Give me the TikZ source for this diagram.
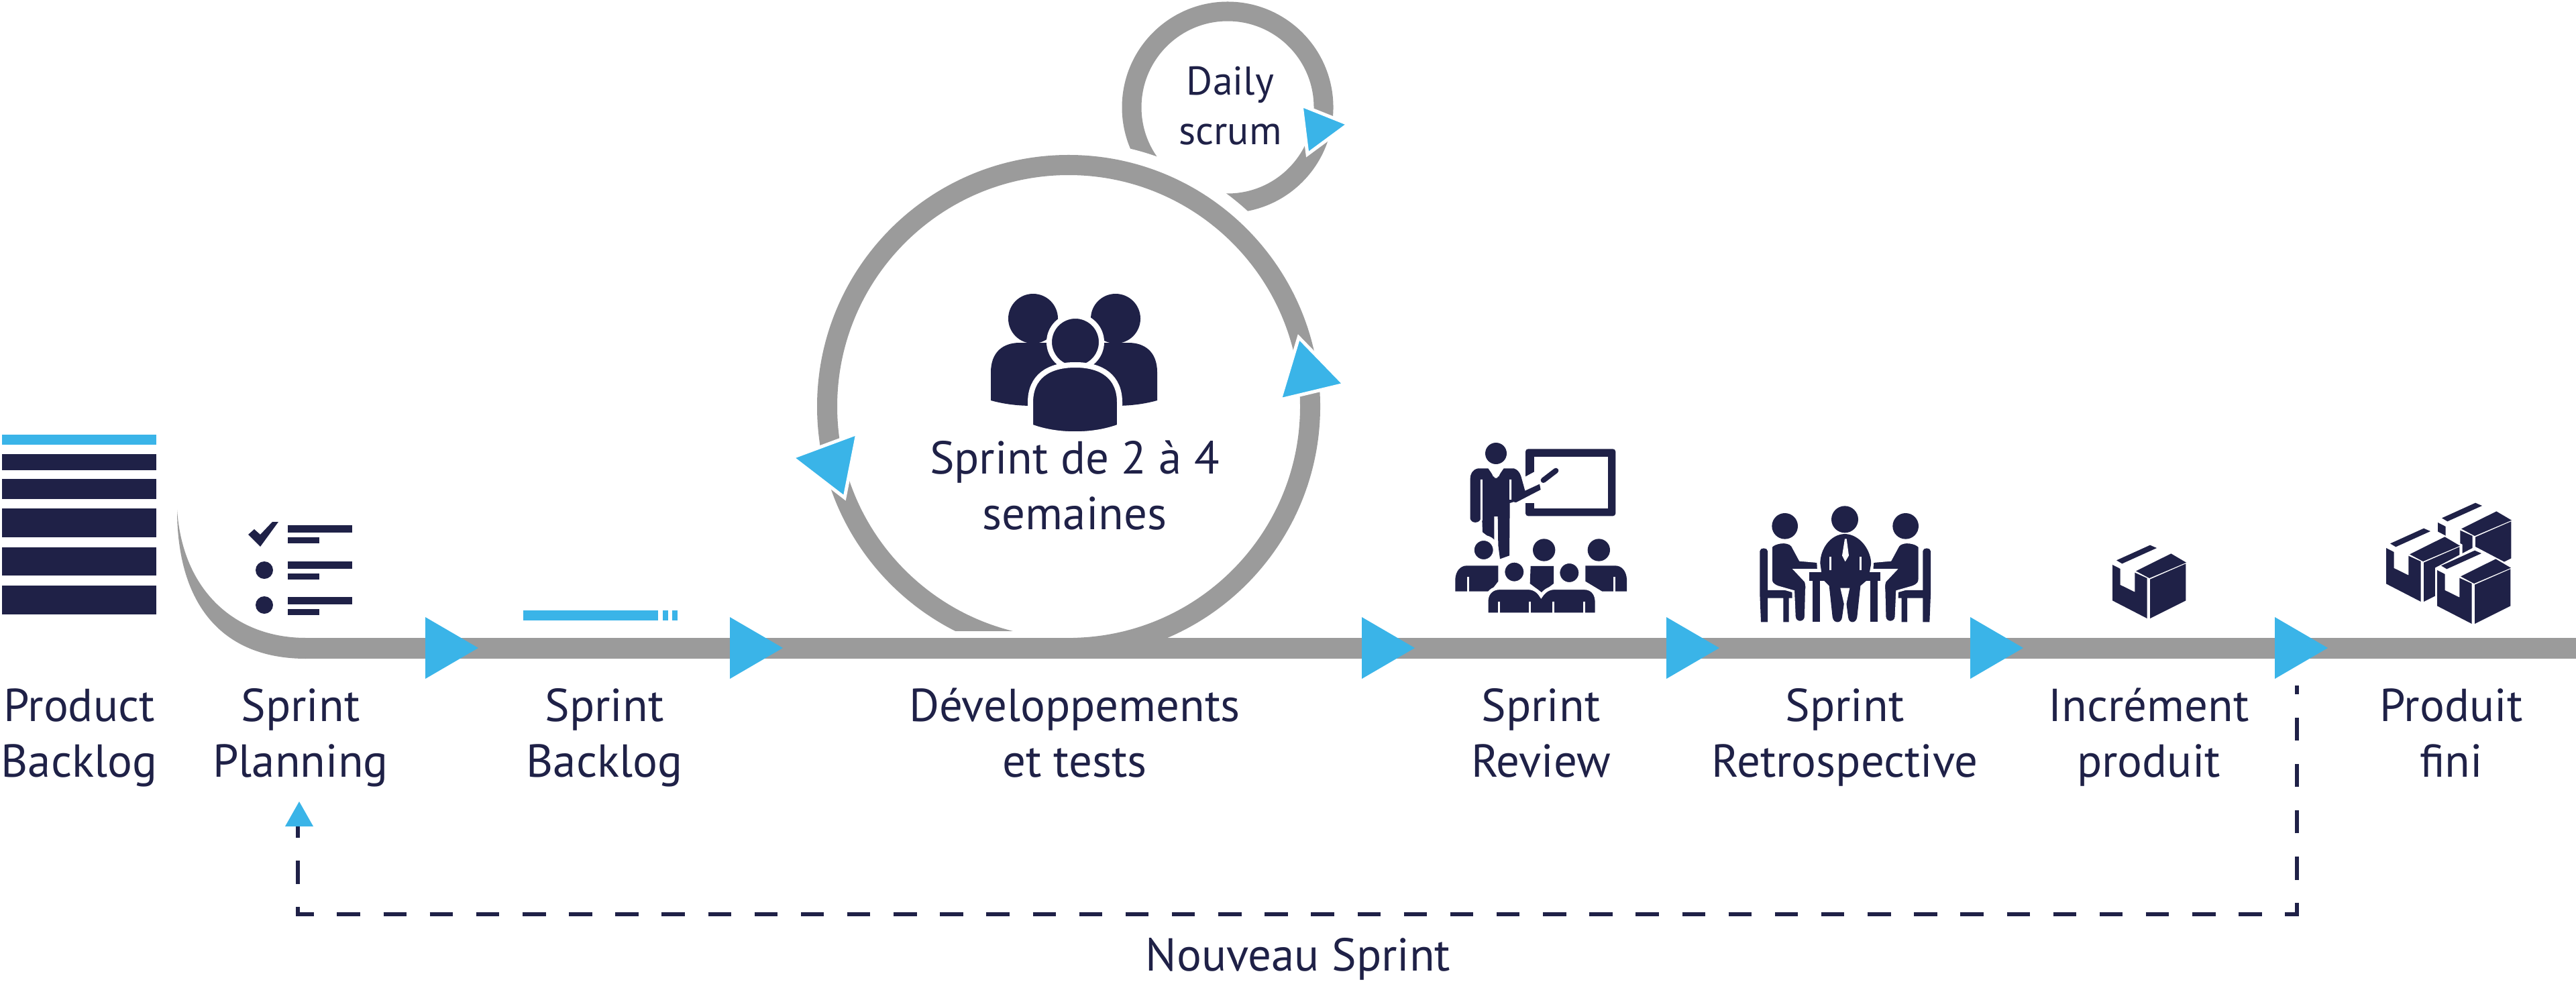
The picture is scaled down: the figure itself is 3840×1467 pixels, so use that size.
\documentclass[tikz,border=0pt]{standalone}
\usepackage{fontspec}
\setmainfont{PT Sans}
\definecolor{railgray}{HTML}{9B9B9B}
\definecolor{flowblue}{HTML}{3AB4E8}
\definecolor{navy}{HTML}{1F2147}
\newcommand{\tl}[1]{\strut #1}
% one carton: #1,#2 are its lower left x and its bottom y, in the units of the enclosing scope
\newcommand{\cartonbox}[2]{%
  \begin{scope}[shift={(#1,#2)},scale=0.3333]
    \fill[white,draw=white,line width=0.6mm] (0,-245)--(170,-335)--(332,-250)--(332,-80)--(160,0)--(0,-80)--cycle;
    \fill[navy] (0,-240)--(35,-222)--(35,-150)--(100,-118)--(100,-205)--(155,-180)--(155,0)--(0,-80)--cycle;
    \fill[navy] (168,-175)--(328,-245)--(328,-80)--(168,0)--cycle;
    \fill[navy] (18,-260)--(168,-328)--(198,-315)--(43,-245)--cycle;
    \fill[navy] (105,-212)--(262,-290)--(330,-250)--(165,-180)--cycle;
  \end{scope}}
% seated person with a chair, facing right
\newcommand{\seatedperson}{%
  \fill[navy] (182,133) circle[radius=58];
  \fill[navy] (70,245) .. controls (70,228) and (105,228) .. (105,245) -- (105,420) -- (215,420) -- (215,455)
    -- (200,455) -- (200,562) -- (175,562) -- (175,455) -- (105,455) -- (105,562) -- (75,562) -- (70,440) -- cycle;
  \filldraw[fill=navy,draw=white,line width=0.35mm] (120,225) .. controls (135,205) and (195,195) .. (215,220)
    -- (250,285) -- (330,292) -- (332,330) -- (228,330) -- (275,380) .. controls (280,395) and (280,410) .. (278,420)
    -- (275,540) .. controls (272,570) and (228,570) .. (225,540) -- (220,425) -- (150,405) .. controls (125,395) and (120,385) .. (120,370) -- cycle;
}
\tikzset{
  rail/.style={draw=railgray,line width=3.1mm},
  ring/.style={draw=railgray,line width=3mm},
  flowtip/.style={fill=flowblue},
  ringtip/.style={fill=flowblue,draw=white,line width=0.5mm,line join=miter},
  glyph/.style={fill=navy},
  halo/.style={draw=white,line width=0.8mm},
  thinhalo/.style={draw=white,line width=0.5mm},
  slit/.style={draw=white,line width=0.3mm},
  lab/.style={text=navy,align=center,inner sep=0pt,font=\fontsize{19.6}{23.7}\selectfont},
  smalllab/.style={text=navy,align=center,inner sep=0pt,font=\fontsize{17}{20.9}\selectfont}
}
\begin{document}
\begin{tikzpicture}[x=0.01cm,y=-0.01cm]
\useasboundingbox (0,0) rectangle (3840,1467);
\fill[white] (0,0) rectangle (3840,1467);

% named points on the flow
\coordinate (railstart) at (450,966.5);
\coordinate (railend) at (3840,966.5);
\coordinate (bigcentre) at (1593,606);
\coordinate (dailycentre) at (1830,160);
\coordinate (loopstart) at (444,1214);
\coordinate (loopcornerB) at (444,1363);
\coordinate (loopcornerA) at (3424,1363);
\coordinate (loopend) at (3424,1022);

% daily scrum ring, cut back around the sprint ring
\draw[ring,line width=2.9mm] (dailycentre) circle[radius=143];
\fill[white] (bigcentre) circle[radius=395];

% sprint ring with the notch above the rail
\draw[ring] (bigcentre) circle[radius=360];
\fill[white] (1400,941) rectangle (1600,951);

% main rail and its entry curve
\draw[rail] (railstart) -- (railend);
\fill[railgray] (264,760) .. controls (264,900) and (330,982) .. (456,982)
  -- (456,951) .. controls (350,951) and (272,880) .. (264,760) -- cycle;

% arrows on the rail
\foreach \ax in {634,1088,2030,2484,2937,3391}
  \fill[flowtip] (\ax,920) -- (\ax+79,966) -- (\ax,1012) -- cycle;

% arrows on the rings
\path[ringtip] (1936,503) -- (2004,573) -- (1908,596) -- cycle;
\path[ringtip] (1181,682) -- (1278,646) -- (1259,742) -- cycle;
\path[ringtip] (1940,157) -- (2010,185) -- (1949,230) -- cycle;

% product backlog stack
\fill[flowblue] (3,648) rectangle (233,663);
\fill[glyph] (3,677) rectangle (233,701);
\fill[glyph] (3,714) rectangle (233,744);
\fill[glyph] (3,758) rectangle (233,801);
\fill[glyph] (3,816) rectangle (233,858);
\fill[glyph] (3,873) rectangle (233,916);

% sprint planning checklist
\fill[glyph] (370,797) -- (388,815) -- (415,778) -- (406,778) -- (388,797) -- (379,789) -- cycle;
\foreach \ly in {783,837,890} {
  \fill[glyph] (429,\ly) rectangle (525,\ly+11);
  \fill[glyph] (429,\ly+18) rectangle (476,\ly+27);
}
\fill[glyph] (394,850) circle[radius=13];
\fill[glyph] (394,902) circle[radius=13];

% sprint backlog bar
\fill[flowblue] (780,910) rectangle (981,925);
\fill[flowblue] (988,910) rectangle (996,925);
\fill[flowblue] (1002,910) rectangle (1010,925);

% team icon
\fill[glyph] (1540,475) circle[radius=37];
\fill[glyph] (1663,475) circle[radius=37];
\fill[glyph] (1477,597) -- (1477,555) .. controls (1477,525) and (1495,511) .. (1520,511)
  -- (1590,511) -- (1590,605) -- (1540,605) .. controls (1515,605) and (1495,602) .. (1477,597) -- cycle;
\fill[glyph] (1725,597) -- (1725,555) .. controls (1725,525) and (1707,511) .. (1682,511)
  -- (1612,511) -- (1612,605) -- (1662,605) .. controls (1687,605) and (1707,602) .. (1725,597) -- cycle;
\filldraw[glyph,halo] (1603,510) circle[radius=39];
\filldraw[glyph,halo] (1536,636) -- (1536,600) .. controls (1536,562) and (1562,544) .. (1603,544)
  .. controls (1643,544) and (1669,562) .. (1669,600) -- (1669,636)
  .. controls (1630,651) and (1575,651) .. (1536,636) -- cycle;

% review icon: presenter, board and audience
\begin{scope}[shift={(2150,650)},scale=0.3333]
  \fill[navy,rounded corners=0.4mm] (372,58) rectangle (775,358);
  \fill[white] (410,92) rectangle (742,325);
  \fill[white] (360,188) -- (412,160) -- (412,300) -- (360,300) -- cycle;
  \fill[glyph] (240,78) circle[radius=48];
  \fill[glyph] (205,145) -- (160,145) .. controls (135,150) and (125,170) .. (125,190) -- (125,370)
    .. controls (130,392) and (165,392) .. (172,370) -- (178,375) -- (180,430) -- (232,470) -- (232,360) -- (248,360)
    -- (250,490) -- (258,550) -- (300,535) -- (302,300) -- (318,295) -- (330,297) -- (440,240) -- (435,215)
    -- (370,245) -- (352,180) .. controls (345,160) and (335,150) .. (320,145) -- (275,145) -- (245,188) -- (235,188) -- cycle;
  \draw[navy,line width=0.8mm,line cap=round] (452,198) -- (508,155);
  \draw[slit] (175,195) -- (175,378) (305,195) -- (305,285) (218,148) -- (232,180) (262,148) -- (248,180);
  \fill[glyph] (455,510) circle[radius=50];
  \fill[glyph] (700,510) circle[radius=50];
  \filldraw[glyph,thinhalo,line width=0.8mm] (185,510) circle[radius=54];
  \fill[glyph] (58,695) -- (58,640) .. controls (60,605) and (80,580) .. (110,580) -- (250,580) -- (250,650) -- (215,695) -- cycle;
  \fill[glyph] (395,582) -- (498,582) -- (498,660) -- (445,700) -- (392,660) -- cycle;
  \fill[glyph] (825,695) -- (825,640) .. controls (823,605) and (803,580) .. (773,580) -- (640,580) -- (640,650) -- (715,695) -- cycle;
  \filldraw[glyph,thinhalo,line width=0.8mm] (322,608) circle[radius=54];
  \filldraw[glyph,thinhalo,line width=0.8mm] (568,612) circle[radius=54];
  \filldraw[glyph,thinhalo] (198,798) -- (198,735) .. controls (200,700) and (225,680) .. (255,680) -- (385,680)
    .. controls (410,680) and (430,695) .. (442,715) .. controls (455,695) and (475,680) .. (500,680) -- (635,680)
    .. controls (665,680) and (688,700) .. (690,735) -- (690,798) -- cycle;
  \draw[slit] (115,630) -- (115,695) (768,630) -- (768,695)
    (252,740) -- (252,798) (392,740) -- (392,798) (495,740) -- (495,798) (635,740) -- (635,798);
\end{scope}

% retrospective icon: three people at a table
\begin{scope}[shift={(2600,740)},scale=0.3333]
  \fill[glyph] (450,103) circle[radius=60];
  \fill[glyph] (340,300) .. controls (340,235) and (385,170) .. (450,168) .. controls (515,170) and (565,235) .. (568,300)
    -- (555,370) -- (520,400) -- (505,540) .. controls (500,570) and (468,570) .. (465,540) -- (452,440)
    -- (438,540) .. controls (435,570) and (400,570) .. (395,540) -- (380,400) -- (350,370) -- cycle;
  \fill[white] (430,410) -- (472,410) -- (452,505) -- cycle;
  \fill[white] (450,190) -- (438,265) -- (452,292) -- (468,265) -- (458,190) -- cycle;
  \draw[slit] (385,270) -- (385,330) (520,270) -- (520,330);
  \fill[glyph] (290,340) rectangle (610,378);
  \fill[glyph] (305,378) rectangle (340,562);
  \fill[glyph] (565,378) rectangle (598,562);
  \seatedperson
  \begin{scope}[shift={(904,0)},xscale=-1]
    \seatedperson
  \end{scope}
\end{scope}

% increment and finished product boxes
\cartonbox{3149}{922}
\cartonbox{3634}{859}
\cartonbox{3557}{897}
\cartonbox{3633}{930}

% new sprint feedback loop
\draw[navy,line width=0.6mm,dash pattern=on 3.45mm off 3.46mm] (loopstart) -- (loopcornerB) -- (loopcornerA) -- (loopend);
\fill[flowtip] (425,1232) -- (446,1195) -- (467,1232) -- cycle;

% labels
\node[lab] (sprintlen) at (1602,731) {\tl{Sprint de 2 à 4}\\\tl{semaines}};
\node[smalllab] (daily) at (1834,164) {\tl{Daily}\\\tl{scrum}};
\node[lab] (productbacklog) at (118,1100) {\tl{Product}\\\tl{Backlog}};
\node[lab] (planning) at (448,1100) {\tl{Sprint}\\\tl{Planning}};
\node[lab] (sprintbacklog) at (901,1100) {\tl{Sprint}\\\tl{Backlog}};
\node[lab] (devtests) at (1602,1100) {\tl{Développements}\\\tl{et tests}};
\node[lab] (review) at (2297,1100) {\tl{Sprint}\\\tl{Review}};
\node[lab] (retro) at (2750,1100) {\tl{Sprint}\\\tl{Retrospective}};
\node[lab] (increment) at (3203,1100) {\tl{Incrément}\\\tl{produit}};
\node[lab] (finished) at (3654,1100) {\tl{Produit}\\\tl{fini}};
\node[lab] (newsprint) at (1935,1431) {\tl{Nouveau Sprint}};
\end{tikzpicture}
\end{document}
